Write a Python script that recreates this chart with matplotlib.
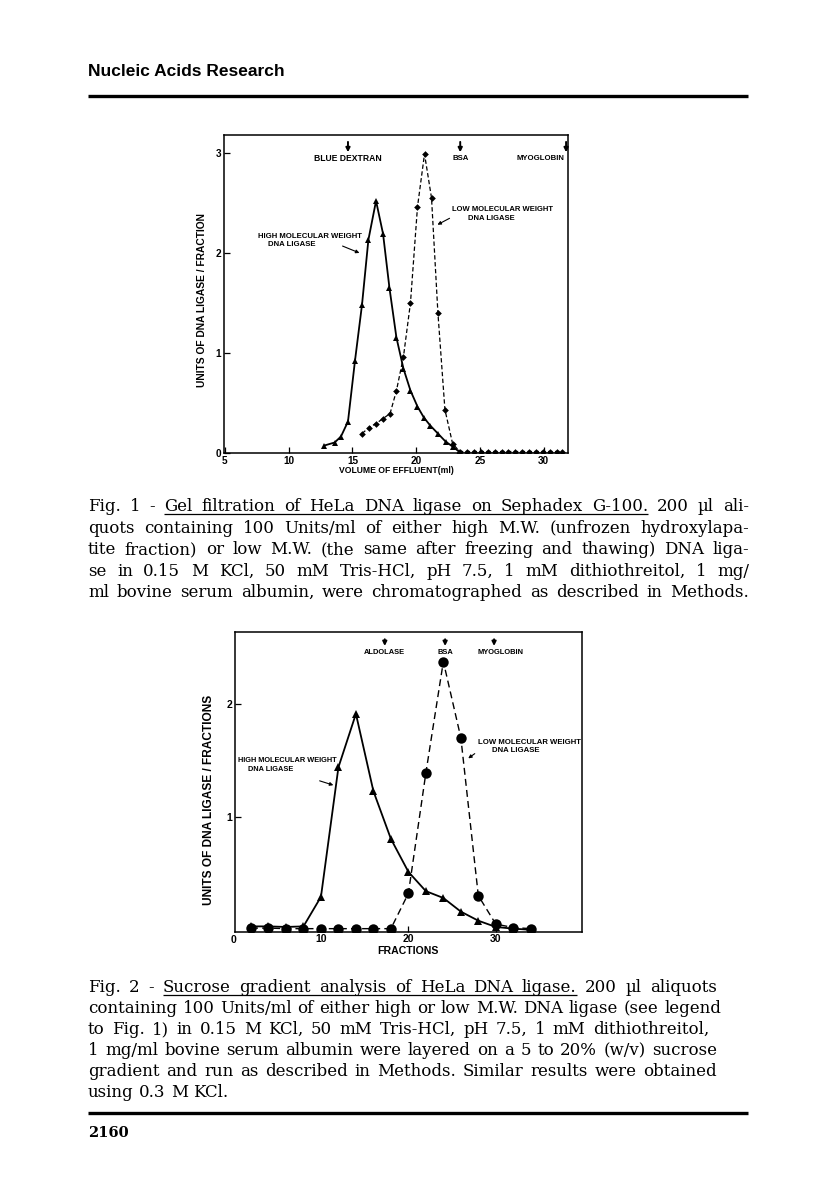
import matplotlib
matplotlib.use("Agg")
import matplotlib.pyplot as plt
from matplotlib.lines import Line2D

# ---------------- data ----------------
# Fig. 1 : gel filtration (volume of effluent, ml)
fig1_high_x = [12.8, 13.6, 14.1, 14.65, 15.2, 15.75, 16.25, 16.85, 17.4, 17.9,
               18.45, 19.0, 19.55, 20.1, 20.6, 21.1, 21.7, 22.3, 22.85, 23.35]
fig1_high_y = [0.07, 0.10, 0.16, 0.31, 0.92, 1.48, 2.13, 2.52, 2.19, 1.65,
               1.15, 0.84, 0.62, 0.46, 0.35, 0.27, 0.19, 0.11, 0.06, 0.01]
fig1_low_x = [15.75, 16.3, 16.85, 17.4, 17.95, 18.45, 19.0, 19.55, 20.1, 20.65,
              21.2, 21.7, 22.25, 22.85, 23.4, 23.95, 24.5, 25.05, 25.6, 26.15,
              26.7, 27.2, 27.75, 28.3, 28.85, 29.4, 29.95, 30.5, 31.0, 31.45]
fig1_low_y = [0.19, 0.25, 0.29, 0.34, 0.39, 0.62, 0.96, 1.50, 2.46, 2.99,
              2.55, 1.40, 0.43, 0.09, 0.01, 0.01, 0.01, 0.01, 0.01, 0.01,
              0.01, 0.01, 0.01, 0.01, 0.01, 0.01, 0.01, 0.01, 0.01, 0.01]
fig1_markers = ["BLUE DEXTRAN", "BSA", "MYOGLOBIN"]
fig1_marker_x = [14.65, 23.45, 31.75]
fig1_xticks = [5, 10, 15, 20, 25, 30]
fig1_yticks = [0, 1, 2, 3]

# Fig. 2 : sucrose gradient (fractions)
fig2_fractions = [2, 4, 6, 8, 10, 12, 14, 16, 18, 20, 22, 24, 26, 28, 30, 32, 34]
fig2_high = [0.04, 0.04, 0.035, 0.04, 0.30, 1.44, 1.91, 1.23, 0.81, 0.52,
             0.35, 0.29, 0.17, 0.09, 0.035, 0.02, 0.01]
fig2_low = [0.025, 0.025, 0.02, 0.02, 0.02, 0.02, 0.02, 0.02, 0.02, 0.33,
            1.39, 2.37, 1.70, 0.31, 0.06, 0.03, 0.02]
fig2_markers = ["ALDOLASE", "BSA", "MYOGLOBIN"]
fig2_marker_x = [17.3, 24.2, 29.8]
fig2_xticks = [10, 20, 30]
fig2_yticks = [1, 2]

caption1 = [
    "Fig. 1  -  Gel filtration of HeLa DNA ligase on Sephadex G-100.  200 \u00b5l ali-",
    "quots containing 100 Units/ml of either  high M.W. (unfrozen hydroxylapa-",
    "tite fraction) or low M.W. (the same after freezing and thawing) DNA liga-",
    "se in 0.15 M KCl, 50 mM Tris-HCl, pH  7.5, 1 mM dithiothreitol, 1 mg/",
    "ml bovine serum albumin, were chromatographed as described in Methods.",
]
caption2 = [
    "Fig. 2  -  Sucrose gradient analysis of HeLa DNA ligase.   200 \u00b5l aliquots",
    "containing 100 Units/ml of either high or low M.W. DNA ligase (see legend",
    "to Fig. 1) in 0.15 M KCl, 50 mM  Tris-HCl, pH 7.5, 1 mM dithiothreitol,",
    "1 mg/ml bovine serum albumin  were layered on a 5 to 20% (w/v) sucrose",
    "gradient and run as described in Methods.  Similar results were obtained",
    "using 0.3 M KCl.",
]

# ---------------- page ----------------
W, H = 816, 1202
fig = plt.figure(figsize=(W / 100, H / 100), dpi=100)
fig.patch.set_facecolor("white")
renderer = fig.canvas.get_renderer()

LBL = dict(family="Liberation Sans", fontweight="bold", color="black")
SERIF = "DejaVu Serif"


def fx(x):
    return x / W


def fy(y):
    return 1 - y / H


def hline(x0, x1, y, lw):
    fig.add_artist(Line2D([fx(x0), fx(x1)], [fy(y), fy(y)], transform=fig.transFigure,
                          color="black", lw=lw, solid_capstyle="butt"))


def axes_px(left, top, right, bottom):
    return fig.add_axes([fx(left), fy(bottom), (right - left) / W, (bottom - top) / H])


def text_width(s, size):
    t = fig.text(0, 0, s, family=SERIF, fontsize=size)
    w = t.get_window_extent(renderer).width
    t.remove()
    return w


def justified(line, y, x0, x1, size, justify=True, underline=None):
    words = line.split()
    texts, widths = [], []
    for w in words:
        t = fig.text(0, fy(y), w, family=SERIF, fontsize=size, va="baseline", ha="left")
        texts.append(t)
        widths.append(t.get_window_extent(renderer).width)
    if justify and len(words) > 1:
        gap = (x1 - x0 - sum(widths)) / (len(words) - 1)
    else:
        gap = text_width("a a", size) - text_width("aa", size)
    x = x0
    pos = []
    for t, w in zip(texts, widths):
        t.set_x(fx(x))
        pos.append((x, x + w))
        x += w + gap
    if underline is not None:
        i0, i1 = underline
        hline(pos[i0][0], pos[i1][1], y + 2.5, 0.9)


# caption size chosen so that a typical line's natural width matches the page
cap_size = 10.0 * 634.0 / text_width(caption2[1], 10.0)
cap_size = min(cap_size, 12.6)

# header
fig.text(fx(88), fy(72), "Nucleic Acids Research", family="Liberation Sans",
         fontweight="bold", fontsize=12.5, va="center", ha="left")
hline(88, 748, 96, 2.4)


def style_ticks(ax, size):
    ax.tick_params(direction="in", length=4, width=0.9, pad=2)
    for lab in ax.get_xticklabels() + ax.get_yticklabels():
        lab.set_fontweight("bold")
        lab.set_fontsize(size)
        lab.set_family("Liberation Sans")
    for s in ax.spines.values():
        s.set_linewidth(1.1)


def fig_arrow(x0, y0, x1, y1):
    fig.add_artist(plt.Annotation("", xy=(x1, H - y1), xytext=(x0, H - y0),
                                  xycoords="figure pixels",
                                  arrowprops=dict(arrowstyle="-|>", color="black", lw=0.8,
                                                  mutation_scale=5)))


# ---------------- Fig. 1 ----------------
ax1 = axes_px(224, 135, 568, 453)
ax1.plot(fig1_high_x, fig1_high_y, color="black", lw=1.3, marker="^", ms=4.8,
         markeredgewidth=0)
ax1.plot(fig1_low_x, fig1_low_y, color="black", lw=0.9, ls=(0, (3.5, 2)), marker="D",
         ms=3.4, markeredgewidth=0)
ax1.set_xlim(4.93, 31.9)
ax1.set_ylim(-0.005, 3.18)
ax1.set_xticks(fig1_xticks)
ax1.set_yticks(fig1_yticks)
style_ticks(ax1, 7.2)
ax1.set_xlabel("VOLUME OF EFFLUENT(ml)", fontsize=6.2, labelpad=0, **LBL)
ax1.set_ylabel("UNITS OF DNA LIGASE / FRACTION", fontsize=7.4, labelpad=3, **LBL)
ax1.yaxis.set_label_coords(-0.049, 0.48)
for name, xm in zip(fig1_markers, fig1_marker_x):
    ax1.annotate("", xy=(xm, 0.937), xytext=(xm, 0.987),
                 xycoords=("data", "axes fraction"),
                 arrowprops=dict(arrowstyle="-|>", color="black", lw=1.4, mutation_scale=6))
    ha = "center" if name != "MYOGLOBIN" else "right"
    xt = xm if name != "MYOGLOBIN" else xm - 0.15
    ax1.text(xt, 0.925, name, transform=ax1.get_xaxis_transform(), ha=ha, va="center",
             fontsize=6.2 if name == "BLUE DEXTRAN" else 5.6, **LBL)
fig.text(fx(258), fy(236), "HIGH MOLECULAR WEIGHT", fontsize=5.6, ha="left", va="center", **LBL)
fig.text(fx(268), fy(244.5), "DNA LIGASE", fontsize=5.6, ha="left", va="center", **LBL)
fig_arrow(340, 245, 362, 254)
fig.text(fx(452), fy(209), "LOW MOLECULAR WEIGHT", fontsize=5.5, ha="left", va="center", **LBL)
fig.text(fx(468), fy(218), "DNA LIGASE", fontsize=5.5, ha="left", va="center", **LBL)
fig_arrow(452, 217, 435, 226)

for i, line in enumerate(caption1):
    justified(line, 511 + 21.5 * i, 88, 749, cap_size, justify=True,
              underline=(3, 11) if i == 0 else None)

# ---------------- Fig. 2 ----------------
ax2 = axes_px(235, 632, 581.5, 931.5)
ax2.plot(fig2_fractions, fig2_high, color="black", lw=1.3, marker="^", ms=5.5,
         markeredgewidth=0)
ax2.plot(fig2_fractions, fig2_low, color="black", lw=1.0, ls=(0, (5, 3)), marker="o",
         ms=7.5, markeredgewidth=0)
ax2.set_xlim(0.17, 39.8)
ax2.set_ylim(-0.005, 2.63)
ax2.set_xticks(fig2_xticks)
ax2.set_yticks(fig2_yticks)
style_ticks(ax2, 7.5)
ax2.text(0, -0.012, "0", transform=ax2.get_xaxis_transform(), ha="center", va="top",
         fontsize=7.5, clip_on=False, **LBL)
ax2.set_xlabel("FRACTIONS", fontsize=7.6, labelpad=1, **LBL)
ax2.set_ylabel("UNITS OF DNA LIGASE / FRACTIONS", fontsize=8.6, labelpad=5, **LBL)
ax2.yaxis.set_label_coords(-0.058, 0.44)
for name, xm in zip(fig2_markers, fig2_marker_x):
    ax2.annotate("", xy=(xm, 0.944), xytext=(xm, 0.985),
                 xycoords=("data", "axes fraction"),
                 arrowprops=dict(arrowstyle="-|>", color="black", lw=1.4, mutation_scale=6))
    xt = xm if name != "MYOGLOBIN" else xm + 0.7
    ax2.text(xt, 0.932, name, transform=ax2.get_xaxis_transform(), ha="center", va="center",
             fontsize=5.4, **LBL)
fig.text(fx(238), fy(761), "HIGH MOLECULAR WEIGHT", fontsize=5.3, ha="left", va="center", **LBL)
fig.text(fx(248), fy(769.5), "DNA LIGASE", fontsize=5.3, ha="left", va="center", **LBL)
fig_arrow(317, 780, 336, 786)
fig.text(fx(478), fy(742), "LOW MOLECULAR WEIGHT", fontsize=5.6, ha="left", va="center", **LBL)
fig.text(fx(492), fy(751), "DNA LIGASE", fontsize=5.6, ha="left", va="center", **LBL)
fig_arrow(477, 752, 466, 760)

cap2_ends = [717, 721, 709, 717, 717, None]
for i, line in enumerate(caption2):
    end = cap2_ends[i]
    justified(line, 992 + 21 * i, 88, end if end else 0, cap_size, justify=end is not None,
              underline=(3, 9) if i == 0 else None)

# footer
hline(88, 748, 1113, 2.4)
fig.text(fx(88), fy(1133), "2160", family=SERIF, fontweight="bold", fontsize=10.5,
         va="center", ha="left")

fig.savefig("out.png", dpi=100, facecolor="white")
